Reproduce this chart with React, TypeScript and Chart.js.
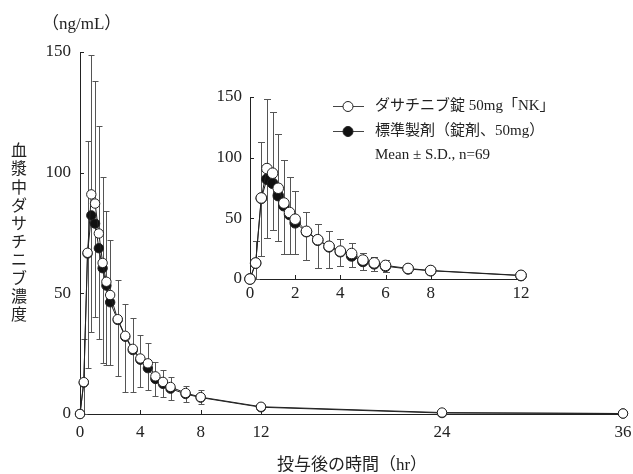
import { useEffect, useRef } from "react";
import { Chart, registerables } from "chart.js";

Chart.register(...registerables);

// Sampling times (hr)
const times = [0, 0.25, 0.5, 0.75, 1, 1.25, 1.5, 1.75, 2, 2.5, 3, 3.5, 4, 4.5, 5, 5.5, 6, 7, 8, 12, 24, 36];
// ダサチニブ錠 50mg「NK」 (ng/mL)
const testMean = [0, 13.2, 66.8, 91, 87.2, 74.8, 62.6, 54.8, 49.3, 39.3, 32.4, 27, 23, 21, 15.6, 13.3, 11.2, 8.7, 7, 3.0, 0.6, 0.2];
const testSD = [0, 17.8, 46.2, 57.6, 50.8, 44.7, 35.4, 29.2, 22.9, 16.2, 13.1, 12.7, 9.8, 8.5, 6.1, 5.0, 4.3, 2.8, 3.0, 1.5, 0, 0];
// 標準製剤（錠剤、50mg） (ng/mL)
const refMean = [0, 13.0, 66.5, 82.3, 78.9, 68.7, 60.4, 53.2, 46.3, 39.0, 32, 26.5, 22.5, 19, 14.5, 12.5, 10.5, 8.3, 6.8, 2.8, 0.4, 0.2];
const refSD = [0, 13.0, 47.5, 48.3, 38.9, 37.7, 39.4, 32.7, 26, 23.1, 22.7, 17.5, 11.5, 9.2, 7.1, 5.5, 4.7, 3.5, 2.6, 1.3, 0, 0];

const mainXTicks = [0, 4, 8, 12, 24, 36];
const insetXTicks = [0, 2, 4, 6, 8, 12];
const yTicks = [0, 50, 100, 150];

const unitLabel = "（ng/mL）";
const yTitle = "血漿中ダサチニブ濃度";
const xTitle = "投与後の時間（hr）";
const legendTest = "ダサチニブ錠 50mg「NK」";
const legendRef = "標準製剤（錠剤、50mg）";
const legendNote = "Mean ± S.D., n=69";

const FONT = "'Liberation Serif', 'Noto Sans CJK JP', serif";
const INK = "#222";
const BAR = "#555";

function errorBarPlugin(xMax: number, cap: number) {
  return {
    id: "errorBars",
    beforeDatasetsDraw(chart: any) {
      const { ctx, scales } = chart;
      const x = scales.x;
      const y = scales.y;
      ctx.save();
      ctx.strokeStyle = BAR;
      ctx.lineWidth = 1;
      times.forEach((t, i) => {
        if (t > xMax) return;
        const px = Math.round(x.getPixelForValue(t)) + 0.5;
        const seg = (from: number, to: number) => {
          const y0 = y.getPixelForValue(from);
          const y1 = Math.round(y.getPixelForValue(to)) + 0.5;
          ctx.beginPath();
          ctx.moveTo(px, y0);
          ctx.lineTo(px, y1);
          ctx.moveTo(px - cap, y1);
          ctx.lineTo(px + cap, y1);
          ctx.stroke();
        };
        if (testSD[i] > 0) seg(testMean[i], testMean[i] + testSD[i]);
        if (refSD[i] > 0) seg(refMean[i], Math.max(0, refMean[i] - refSD[i]));
      });
      ctx.restore();
    },
  };
}

function inwardTicksPlugin(xt: number[], yt: number[], len: number) {
  return {
    id: "inwardTicks",
    beforeDatasetsDraw(chart: any) {
      const { ctx, scales, chartArea } = chart;
      ctx.save();
      ctx.strokeStyle = INK;
      ctx.lineWidth = 1;
      ctx.beginPath();
      xt.forEach((v) => {
        if (v === scales.x.min) return;
        const px = Math.round(scales.x.getPixelForValue(v)) + 0.5;
        ctx.moveTo(px, chartArea.bottom);
        ctx.lineTo(px, chartArea.bottom - len);
      });
      yt.forEach((v) => {
        if (v === scales.y.min) return;
        const py = Math.round(scales.y.getPixelForValue(v)) + 0.5;
        ctx.moveTo(chartArea.left, py);
        ctx.lineTo(chartArea.left + len, py);
      });
      ctx.stroke();
      ctx.restore();
    },
  };
}

const textPlugin = {
  id: "annotations",
  afterDraw(chart: any) {
    const { ctx } = chart;
    ctx.save();
    ctx.fillStyle = INK;
    ctx.font = `17px ${FONT}`;
    ctx.textBaseline = "middle";
    ctx.textAlign = "left";
    ctx.fillText(unitLabel, 42, 25);

    // vertical axis title, one character per line
    ctx.textAlign = "center";
    ctx.font = `16px ${FONT}`;
    [...yTitle].forEach((ch, i) => ctx.fillText(ch, 19, 152 + i * 18.2));

    ctx.font = `17px ${FONT}`;
    ctx.fillText(xTitle, 352, 466);

    // legend
    const rows = [
      { y: 106, fill: "#fff", text: legendTest },
      { y: 131, fill: "#111", text: legendRef },
    ];
    rows.forEach((r) => {
      ctx.strokeStyle = "#444";
      ctx.lineWidth = 1;
      ctx.beginPath();
      ctx.moveTo(333, r.y + 0.5);
      ctx.lineTo(364, r.y + 0.5);
      ctx.stroke();
      ctx.beginPath();
      ctx.arc(348, r.y + 0.5, 5, 0, Math.PI * 2);
      ctx.fillStyle = r.fill;
      ctx.fill();
      ctx.strokeStyle = INK;
      ctx.stroke();
      ctx.fillStyle = INK;
      ctx.textAlign = "left";
      ctx.font = `15px ${FONT}`;
      ctx.fillText(r.text, 375, r.y);
    });
    ctx.fillText(legendNote, 375, 155);
    ctx.restore();
  },
};

function makeDatasets(xMax: number, radius: number) {
  const idx = times.map((t, i) => i).filter((i) => times[i] <= xMax);
  const common = {
    borderColor: INK,
    borderWidth: 1,
    pointRadius: radius,
    pointBorderColor: INK,
    pointBorderWidth: 1,
    tension: 0,
    clip: false as const,
  };
  // lower order is drawn on top: test product above reference product
  return [
    {
      ...common,
      label: legendRef,
      data: idx.map((i) => ({ x: times[i], y: refMean[i] })),
      pointBackgroundColor: "#111",
      order: 2,
    },
    {
      ...common,
      label: legendTest,
      data: idx.map((i) => ({ x: times[i], y: testMean[i] })),
      pointBackgroundColor: "#fff",
      order: 1,
    },
  ];
}

function makeScales(
  xMax: number,
  xt: number[],
  yWidth: number,
  xHeight: number,
  xPad: number,
  yPad: number
) {
  const tickFont = { family: FONT, size: 17 };
  return {
    x: {
      type: "linear" as const,
      min: 0,
      max: xMax,
      grid: { display: false, drawTicks: false },
      border: { display: true, color: INK, width: 1 },
      ticks: { font: tickFont, color: INK, padding: xPad, autoSkip: false, maxRotation: 0 },
      afterBuildTicks: (s: any) => {
        s.ticks = xt.map((v) => ({ value: v }));
      },
      afterFit: (s: any) => {
        s.height = xHeight;
        s.paddingLeft = 0;
        s.paddingRight = 0;
      },
    },
    y: {
      type: "linear" as const,
      min: 0,
      max: 150,
      grid: { display: false, drawTicks: false },
      border: { display: true, color: INK, width: 1 },
      ticks: { font: tickFont, color: INK, padding: yPad },
      afterBuildTicks: (s: any) => {
        s.ticks = yTicks.map((v) => ({ value: v }));
      },
      afterFit: (s: any) => {
        s.width = yWidth;
        s.paddingTop = 0;
        s.paddingBottom = 0;
      },
    },
  };
}

export default function App() {
  const mainRef = useRef<HTMLCanvasElement>(null);
  const insetRef = useRef<HTMLCanvasElement>(null);

  useEffect(() => {
    const main = new Chart(mainRef.current!, {
      type: "line",
      data: { datasets: makeDatasets(36, 4.7) as any },
      options: {
        responsive: false,
        animation: false,
        layout: { padding: { left: 0, right: 10, top: 52, bottom: 0 } },
        plugins: { legend: { display: false }, tooltip: { enabled: false } },
        scales: makeScales(36, mainXTicks, 80, 60, 8, 9) as any,
      },
      plugins: [errorBarPlugin(36, 3), inwardTicksPlugin(mainXTicks, yTicks, 4), textPlugin],
    });

    const inset = new Chart(insetRef.current!, {
      type: "line",
      data: { datasets: makeDatasets(12, 5.3) as any },
      options: {
        responsive: false,
        animation: false,
        layout: { padding: { left: 0, right: 19, top: 12, bottom: 0 } },
        plugins: { legend: { display: false }, tooltip: { enabled: false } },
        scales: makeScales(12, insetXTicks, 50, 26, 4, 8) as any,
      },
      plugins: [errorBarPlugin(12, 3.5), inwardTicksPlugin(insetXTicks, yTicks, 4)],
    });

    return () => {
      main.destroy();
      inset.destroy();
    };
  }, []);

  return (
    <div style={{ position: "absolute", left: 0, top: 0, width: 633, height: 474, background: "#fff" }}>
      <canvas ref={mainRef} width={633} height={474} style={{ position: "absolute", left: 0, top: 0 }} />
      <canvas ref={insetRef} width={340} height={220} style={{ position: "absolute", left: 200, top: 85 }} />
    </div>
  );
}
